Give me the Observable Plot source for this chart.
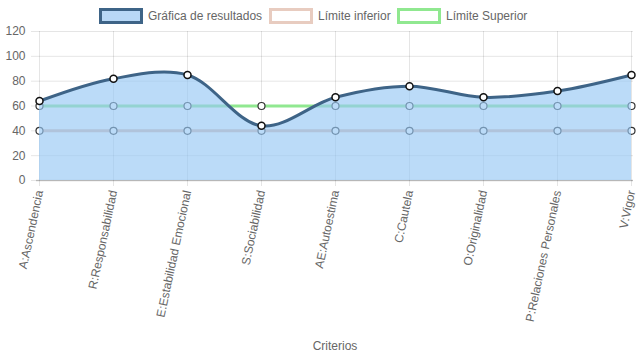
<!DOCTYPE html>
<html>
<head>
<meta charset="utf-8">
<script src="https://cdn.jsdelivr.net/npm/d3@7"></script>
<script src="https://cdn.jsdelivr.net/npm/@observablehq/plot@0.6"></script>
<style>
  html, body { margin: 0; padding: 0; background: #fff; }
  body { width: 637px; height: 359px; overflow: hidden; font-family: "Liberation Sans", Arial, Helvetica, sans-serif; }
  #legend { position: relative; height: 20px; font-size: 12px; color: #666; }
  .item { position: absolute; top: 8px; display: flex; align-items: center; }
  .box { width: 38px; height: 10px; border-width: 3px; border-style: solid; box-sizing: content-box; margin-right: 5px; }
  #chart svg { display: block; overflow: visible; }
</style>
</head>
<body>
<div id="legend"></div>
<div id="chart"></div>
<script>
const categories = ["A:Ascendencia", "R:Responsabilidad", "E:Estabilidad Emocional", "S:Sociabilidad", "AE:Autoestima", "C:Cautela", "O:Originalidad", "P:Relaciones Personales", "V:Vigor"];
const resultados = [64, 82, 85, 44, 67, 76, 67, 72, 85];
const limiteInferior = [40, 40, 40, 40, 40, 40, 40, 40, 40];
const limiteSuperior = [60, 60, 60, 60, 60, 60, 60, 60, 60];
const yTicks = [0, 20, 40, 60, 80, 100, 120];
const seriesNames = ["Gráfica de resultados", "Límite inferior", "Límite Superior"];

const colFill = "rgb(151,200,245)";
const colLine = "#3e6487";
const colInf = "rgb(222,186,172)";
const colSup = "rgb(144,232,144)";

const legendItems = [
  {name: seriesNames[0], fill: "rgb(184,216,246)", stroke: colLine, left: 99},
  {name: seriesNames[1], fill: "#fff", stroke: "rgb(232,204,192)", left: 269},
  {name: seriesNames[2], fill: "#fff", stroke: colSup, left: 397}
];
const leg = document.getElementById("legend");
for (const it of legendItems) {
  const d = document.createElement("div");
  d.className = "item";
  d.style.left = it.left + "px";
  const b = document.createElement("span");
  b.className = "box";
  b.style.background = it.fill;
  b.style.borderColor = it.stroke;
  const t = document.createElement("span");
  t.textContent = it.name;
  d.appendChild(b); d.appendChild(t);
  leg.appendChild(d);
}

const rows = categories.map((c, i) => ({c, r: resultados[i], lo: limiteInferior[i], hi: limiteSuperior[i]}));
const curve = "catmull-rom";

const chart = Plot.plot({
  width: 637,
  height: 339,
  marginTop: 11,
  marginBottom: 179,
  marginLeft: 36,
  marginRight: 4,
  style: {fontFamily: "'Liberation Sans', Arial, Helvetica, sans-serif", fontSize: "12px", color: "#666", background: "transparent"},
  x: {type: "point", domain: categories, padding: 0},
  y: {domain: [0, 120]},
  marks: [
    Plot.ruleY(yTicks, {y: d => d, stroke: "#000", strokeOpacity: 0.1, insetLeft: -5}),
    Plot.ruleX(categories, {x: d => d, stroke: "#000", strokeOpacity: 0.1, insetBottom: -6}),
    Plot.ruleY([0], {stroke: "#000", strokeOpacity: 0.2, strokeWidth: 1.5}),
    Plot.lineY(rows, {x: "c", y: "lo", stroke: colInf, strokeWidth: 3}),
    Plot.lineY(rows, {x: "c", y: "hi", stroke: colSup, strokeWidth: 3}),
    Plot.dot(rows, {x: "c", y: "lo", r: 3.5, fill: "#fff", stroke: "#333", strokeWidth: 1.2}),
    Plot.dot(rows, {x: "c", y: "hi", r: 3.5, fill: "#fff", stroke: "#333", strokeWidth: 1.2}),
    Plot.areaY(rows, {x: "c", y1: 0, y2: "r", fill: colFill, fillOpacity: 0.65, curve}),
    Plot.lineY(rows, {x: "c", y: "r", stroke: colLine, strokeWidth: 3, curve}),
    Plot.dot(rows, {x: "c", y: "r", r: 3.5, fill: "#fff", stroke: "#111", strokeWidth: 1.5}),
    Plot.axisY(yTicks, {tickSize: 0, tickPadding: 11, fill: "#666", fontSize: 12, label: null}),
    Plot.axisX({tickSize: 0, tickPadding: 10, tickRotate: -78, fill: "#666", fontSize: 12, label: "Criterios", labelAnchor: "center", labelOffset: 169, labelArrow: "none"})
  ]
});
document.getElementById("chart").appendChild(chart);
</script>
</body>
</html>
